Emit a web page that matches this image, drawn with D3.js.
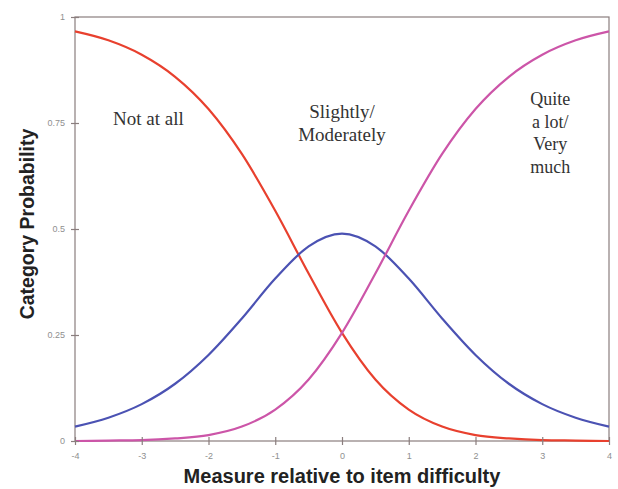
<!DOCTYPE html>
<html>
<head>
<meta charset="utf-8">
<script src="https://cdn.jsdelivr.net/npm/d3@7"></script>
<style>
  body { margin: 0; background: #fff; }
  svg { display: block; }
</style>
</head>
<body>
<svg id="chart" width="618" height="489"></svg>
<script>
const measures = [-4, -3.5, -3, -2.5, -2, -1.5, -1, -0.5, 0, 0.5, 1, 1.5, 2, 2.5, 3, 3.5, 4];
const notAtAll = [0.966, 0.945, 0.911, 0.859, 0.783, 0.677, 0.543, 0.395, 0.255, 0.145, 0.074, 0.034, 0.014, 0.006, 0.002, 0.001, 0.000];
const slightly = [0.034, 0.055, 0.087, 0.135, 0.203, 0.289, 0.383, 0.459, 0.489, 0.459, 0.383, 0.289, 0.203, 0.135, 0.087, 0.055, 0.034];
const quiteALot = [0.000, 0.001, 0.002, 0.006, 0.014, 0.034, 0.074, 0.145, 0.255, 0.395, 0.543, 0.677, 0.783, 0.859, 0.911, 0.945, 0.966];
const xTicks = [-4, -3, -2, -1, 0, 1, 2, 3, 4];
const yTicks = [0, 0.25, 0.5, 0.75, 1];

const series = [
  { name: 'notAtAll', values: notAtAll, color: '#e8402e' },
  { name: 'slightly', values: slightly, color: '#4b52b3' },
  { name: 'quite', values: quiteALot, color: '#cc55a8' }
];

const margin = { top: 17, right: 9, bottom: 48, left: 75 };
const width = 618 - margin.left - margin.right;
const height = 489 - margin.top - margin.bottom;

const svg = d3.select('#chart');
const main = svg.append('g')
  .attr('transform', `translate(${margin.left},${margin.top})`);

const x = d3.scaleLinear().domain([-4, 4]).range([0, width]);
const y = d3.scaleLinear().domain([0, 1]).range([height, 0]);

const axisColor = '#8a7e7e';

// frame
main.append('rect')
  .attr('x', 0).attr('y', 0)
  .attr('width', width).attr('height', height)
  .attr('fill', 'none')
  .attr('stroke', axisColor)
  .attr('stroke-width', 1.2);

const line = d3.line()
  .curve(d3.curveMonotoneX)
  .x((d, i) => x(measures[i]))
  .y(d => y(d));

main.selectAll('.curve')
  .data(series)
  .enter()
  .append('path')
  .attr('class', 'curve')
  .attr('fill', 'none')
  .attr('stroke', d => d.color)
  .attr('stroke-width', 2.2)
  .attr('d', d => line(d.values));

const xAxis = d3.axisBottom(x)
  .tickValues(xTicks)
  .tickSize(4)
  .tickFormat(d => String(d));

const gx = main.append('g')
  .attr('transform', `translate(0,${height})`)
  .call(xAxis);
gx.select('.domain').remove();
gx.selectAll('.tick line')
  .attr('y1', -4)
  .attr('stroke', axisColor)
  .attr('stroke-width', 1.2);
gx.selectAll('.tick text')
  .attr('y', 12)
  .attr('fill', '#8f8f8f')
  .style('font-family', 'Arial, "Liberation Sans", sans-serif')
  .style('font-size', '9px');

const yAxis = d3.axisLeft(y)
  .tickValues(yTicks)
  .tickSize(4)
  .tickFormat(d => String(d));

const gy = main.append('g').call(yAxis);
gy.select('.domain').remove();
gy.selectAll('.tick line')
  .attr('x1', 4)
  .attr('stroke', axisColor)
  .attr('stroke-width', 1.2);
gy.selectAll('.tick text')
  .attr('x', -10)
  .attr('fill', '#8f8f8f')
  .style('font-family', 'Arial, "Liberation Sans", sans-serif')
  .style('font-size', '9px');

// axis titles
svg.append('text')
  .attr('x', margin.left + width / 2)
  .attr('y', 483)
  .attr('text-anchor', 'middle')
  .attr('fill', '#222')
  .style('font-family', 'Arial, "Liberation Sans", sans-serif')
  .style('font-weight', 'bold')
  .style('font-size', '20px')
  .text('Measure relative to item difficulty');

svg.append('text')
  .attr('transform', 'translate(34,224) rotate(-90)')
  .attr('text-anchor', 'middle')
  .attr('fill', '#222')
  .style('font-family', 'Arial, "Liberation Sans", sans-serif')
  .style('font-weight', 'bold')
  .style('font-size', '19.5px')
  .text('Category  Probability');

// category labels
const labels = [
  { lines: ['Not at all'], x: -2.9, y: 125, size: 19 },
  { lines: ['Slightly/', 'Moderately'], x: 0, y: 118, size: 19 },
  { lines: ['Quite', 'a lot/', 'Very', 'much'], x: 3.12, y: 105, size: 18 }
];

labels.forEach(l => {
  const t = svg.append('text')
    .attr('text-anchor', 'middle')
    .attr('fill', '#333')
    .style('font-family', '"Liberation Serif", "Times New Roman", serif')
    .style('font-size', `${l.size}px`);
  l.lines.forEach((s, i) => {
    t.append('tspan')
      .attr('x', margin.left + x(l.x))
      .attr('y', l.y + i * 22.5)
      .text(s);
  });
});
</script>
</body>
</html>
